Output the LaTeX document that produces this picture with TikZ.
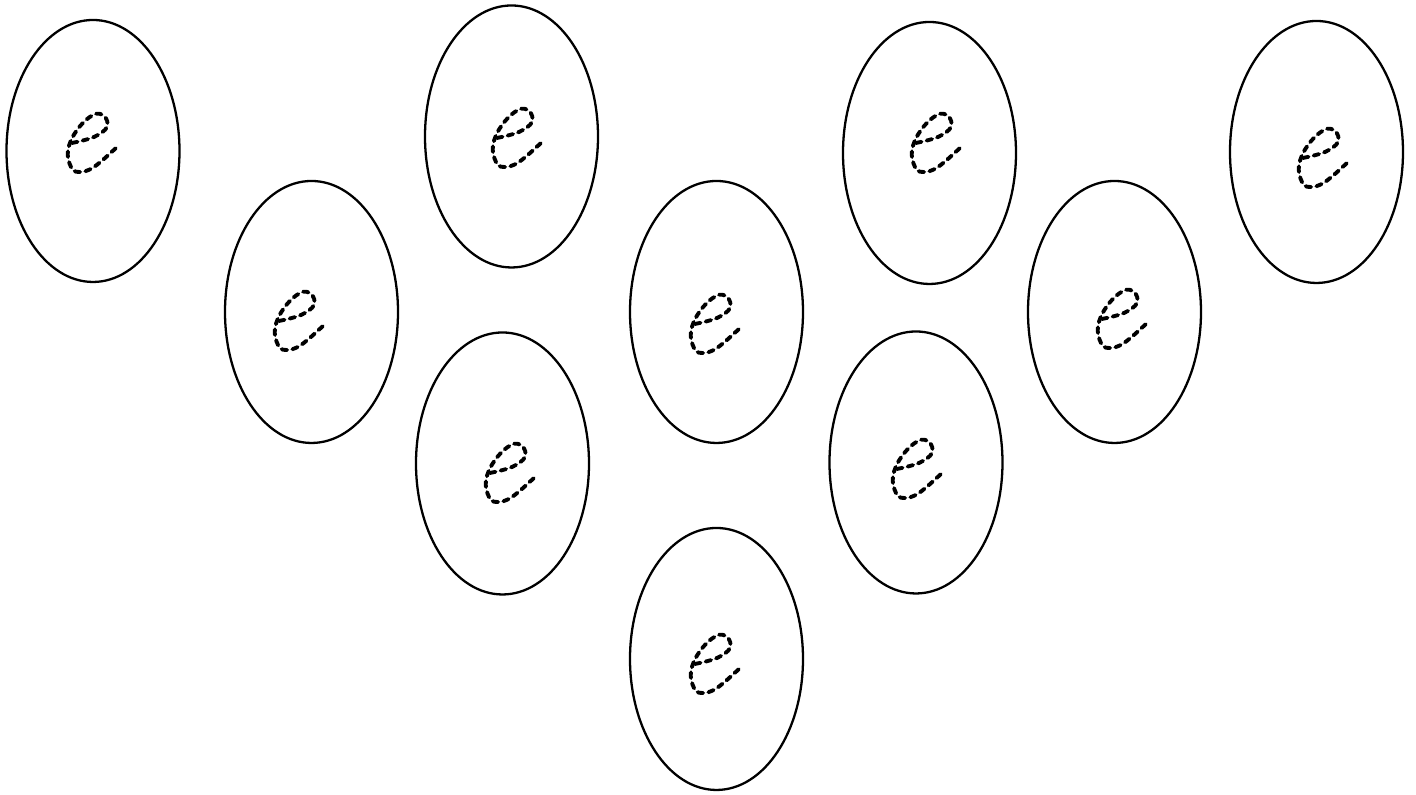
\documentclass[tikz,border=0pt]{standalone}
\usetikzlibrary{shapes.geometric}

\begin{document}
\begin{tikzpicture}[
  cell/.style={ellipse, draw=black, line width=0.65pt, minimum width=1.73cm, minimum height=2.62cm, inner sep=0pt},
  dotline/.style={line width=1.1pt, dash pattern=on 1.6pt off 1.5pt, line cap=round},
  squiggle/.pic={
    \draw[dotline] plot[smooth, tension=0.65] coordinates
      {(-0.20,0.00) (0.02,0.06) (0.15,0.16) (0.12,0.27) (0.01,0.28) (-0.15,0.13) (-0.24,-0.07) (-0.21,-0.24) (-0.13,-0.29) (0.02,-0.24) (0.25,-0.04)};
  }
]
  \useasboundingbox (0,0) rectangle (14.16,7.95);

  % top row
  \node[cell] (cell1) at (0.93,6.44) {};
  \node[cell] (cell3) at (5.115,6.585) {};
  \node[cell] (cell7) at (9.295,6.42) {};
  \node[cell] (cell10) at (13.165,6.43) {};

  % middle row
  \node[cell] (cell2) at (3.115,4.83) {};
  \node[cell] (cell5) at (7.165,4.83) {};
  \node[cell] (cell9) at (11.145,4.83) {};

  % lower rows
  \node[cell] (cell4) at (5.025,3.315) {};
  \node[cell] (cell8) at (9.16,3.325) {};
  \node[cell] (cell6) at (7.165,1.36) {};

  % the e inside each cell
  \pic at ([shift={(-0.01,0.08)}]cell1.center) {squiggle};
  \pic at ([shift={(-0.125,-0.09)}]cell2.center) {squiggle};
  \pic at ([shift={(0.055,-0.015)}]cell3.center) {squiggle};
  \pic at ([shift={(0.075,-0.095)}]cell4.center) {squiggle};
  \pic at ([shift={(-0.015,-0.12)}]cell5.center) {squiggle};
  \pic at ([shift={(-0.015,-0.05)}]cell6.center) {squiggle};
  \pic at ([shift={(0.065,0.10)}]cell7.center) {squiggle};
  \pic at ([shift={(0.01,-0.065)}]cell8.center) {squiggle};
  \pic at ([shift={(0.075,-0.07)}]cell9.center) {squiggle};
  \pic at ([shift={(0.065,-0.06)}]cell10.center) {squiggle};
\end{tikzpicture}
\end{document}
